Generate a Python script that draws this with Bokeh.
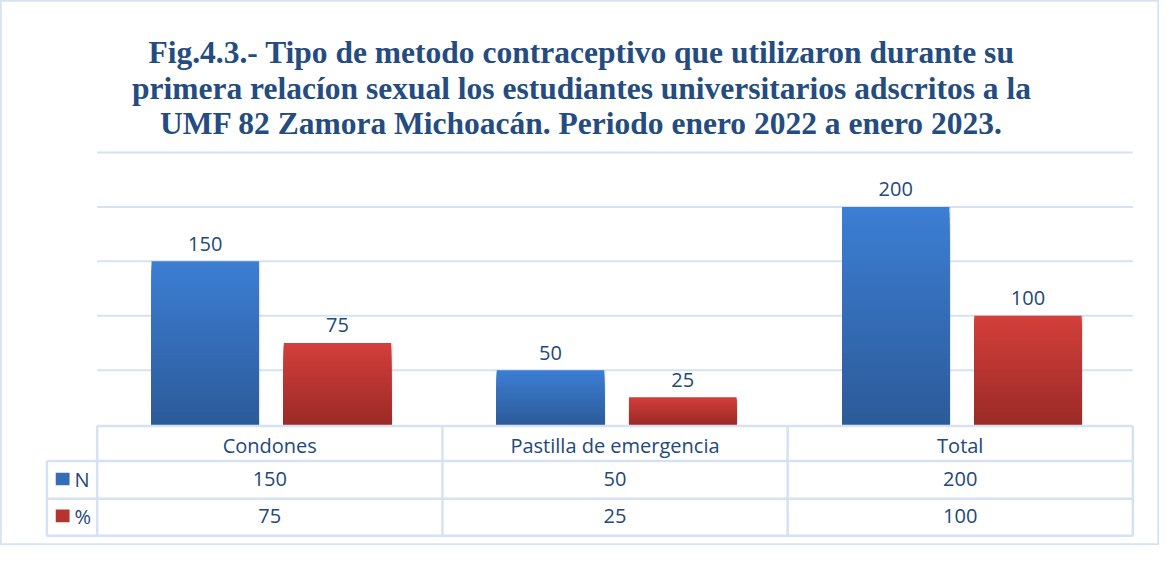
from bokeh.plotting import figure
from bokeh.models import Range1d
from bokeh.core.properties import value
from bokeh.embed import file_html
from bokeh.resources import INLINE

# ---------------- data ----------------
categories = ["Condones", "Pastilla de emergencia", "Total"]
series_names = ["N", "%"]
n_values = [150, 50, 200]
pct_values = [75, 25, 100]
grid_ticks = [50, 100, 150, 200, 250]
title_lines = [
    "Fig.4.3.- Tipo de metodo contraceptivo que utilizaron durante su",
    "primera relacíon sexual los estudiantes universitarios adscritos a la",
    "UMF 82 Zamora Michoacán. Periodo enero 2022 a enero 2023.",
]

# ---------------- layout ----------------
W, H = 1159, 545          # canvas; the 1175x561 design is scaled into it
REF_W, REF_H = 1175.0, 561.0
CAT_PX = 350.0            # design px per category
UNIT_PX = 1.12            # design px per value unit
PLOT_LEFT = 98.0          # design x of first category start
BASE_Y = 436.5            # design y (from top) of value 0


def X(rx):
    return (rx - PLOT_LEFT) / CAT_PX


def Y(ry):
    return (BASE_Y - ry) / UNIT_PX


xs, xe = X(0), X(REF_W)
ys, ye = Y(REF_H), Y(0)

TITLE_C = "#244C80"
TEXT_C = "#23487A"
LINE_C = "#D6E2F3"
FONT = value("Open Sans")
FS = "20px"

p = figure(width=W, height=H, x_range=Range1d(xs, xe), y_range=Range1d(ys, ye),
           output_backend="svg", toolbar_location=None, min_border=0,
           x_axis_location=None, y_axis_location=None)
p.grid.visible = False
p.outline_line_color = LINE_C
p.outline_line_width = 2.5
p.background_fill_color = "white"
p.border_fill_color = "white"

ncat = len(categories)
centers = [i + 0.5 for i in range(ncat)]

# gridlines
p.segment(x0=[0] * len(grid_ticks), x1=[ncat] * len(grid_ticks), y0=grid_ticks, y1=grid_ticks,
          line_color=LINE_C, line_width=2)


def hex2rgb(h):
    h = h.lstrip("#")
    return tuple(int(h[k:k + 2], 16) for k in (0, 2, 4))


def mix(c0, c1, f):
    a, b = hex2rgb(c0), hex2rgb(c1)
    return "#%02x%02x%02x" % tuple(int(round(a[k] + (b[k] - a[k]) * f)) for k in range(3))


BAR_W = 0.311
OFFS = [-0.187, 0.196]
series = [
    (n_values, "#2C5A98", "#3C7ED3"),
    (pct_values, "#9A2A27", "#D33F3A"),
]
NSTEP = 40
for (vals, bot_c, top_c), off in zip(series, OFFS):
    xc = [c + off for c in centers]
    # soft shadow
    p.vbar(x=[x + 1.5 / CAT_PX for x in xc], top=vals, bottom=-2.5 / UNIT_PX,
           width=BAR_W, fill_color="#808080", fill_alpha=0.18, line_color=None)
    for j in range(NSTEP, 0, -1):
        f = j / NSTEP
        p.vbar(x=xc, top=[v * f for v in vals], bottom=0, width=BAR_W,
               fill_color=mix(bot_c, top_c, f), line_color=None)
    p.text(x=xc, y=[v + 18 / UNIT_PX for v in vals], text=[str(v) for v in vals],
           text_align="center", text_baseline="alphabetic", text_font=FONT,
           text_font_size=FS, text_color=TEXT_C)

# title
title_base = [54, 90.5, 127]
p.text(x=[X(589)] * 3, y=[Y(b) for b in title_base], text=title_lines,
       text_align="center", text_baseline="alphabetic",
       text_font=value("Liberation Serif"), text_font_style="bold",
       text_font_size="31.5px", text_color=TITLE_C)

# data table
row_lines = [438, 474, 513, 551]
leg_left = X(47)
p.segment(x0=[0], x1=[ncat], y0=[Y(row_lines[0])], y1=[Y(row_lines[0])],
          line_color=LINE_C, line_width=2.5)
p.segment(x0=[leg_left] * 3, x1=[ncat] * 3, y0=[Y(r) for r in row_lines[1:]],
          y1=[Y(r) for r in row_lines[1:]], line_color=LINE_C, line_width=2.5)
p.segment(x0=list(range(ncat + 1)), x1=list(range(ncat + 1)), y0=[Y(row_lines[0])] * (ncat + 1),
          y1=[Y(row_lines[-1])] * (ncat + 1), line_color=LINE_C, line_width=2.5)
p.segment(x0=[leg_left], x1=[leg_left], y0=[Y(row_lines[1])], y1=[Y(row_lines[-1])],
          line_color=LINE_C, line_width=2.5)

p.text(x=centers, y=[Y(458)] * ncat, text=categories, text_align="center",
       text_baseline="middle", text_font=FONT, text_font_size=FS, text_color=TEXT_C)
row_centers = [493, 531]
for (vals, bot_c, top_c), rc, name in zip(series, row_centers, series_names):
    p.text(x=centers, y=[Y(rc)] * ncat, text=[str(v) for v in vals], text_align="center",
           text_baseline="middle", text_font=FONT, text_font_size=FS, text_color=TEXT_C)
    p.quad(left=[X(56)], right=[X(70)], top=[Y(rc - 7)], bottom=[Y(rc + 6)],
           fill_color=mix(bot_c, top_c, 0.5), line_color=None)
    p.text(x=[X(75)], y=[Y(rc)], text=[name], text_align="left", text_baseline="middle",
           text_font=FONT, text_font_size=FS, text_color=TEXT_C)

open("out.html", "w").write(file_html(p, INLINE))
